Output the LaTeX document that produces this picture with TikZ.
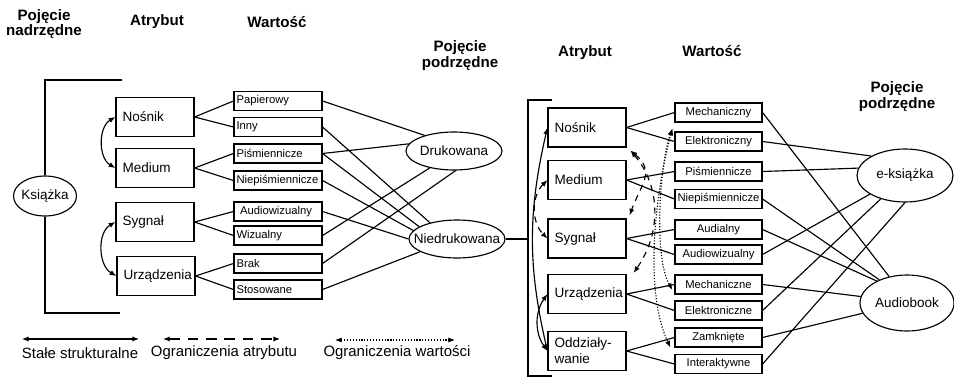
\documentclass[tikz,border=0pt]{standalone}
\usepackage{fontspec}
\setmainfont{Liberation Sans}
\usetikzlibrary{shapes.geometric,arrows.meta}
\newcommand{\lvtext}[1]{\makebox[1.66cm][l]{#1}}

\begin{document}
\begin{tikzpicture}[x=0.02cm,y=0.02cm,line width=0.65pt,>={Latex[length=3.8pt,width=3pt]},
	head/.style={font=\bfseries\fontsize{8.6}{8}\selectfont,align=center},
	attr/.style={draw,rectangle,minimum width=1.56cm,minimum height=0.78cm,text width=1.3cm,inner xsep=0.13cm,inner ysep=0pt,align=left,font=\fontsize{7.7}{9}\selectfont},
	lval/.style={draw,rectangle,minimum width=1.76cm,minimum height=0.38cm,inner sep=0pt,font=\fontsize{6.4}{7.5}\selectfont},
	rval/.style={draw,rectangle,minimum width=1.74cm,minimum height=0.38cm,inner sep=0pt,font=\fontsize{6.4}{7.5}\selectfont},
	concept/.style={draw,ellipse,inner sep=0pt,font=\fontsize{7.7}{9}\selectfont},
	legtext/.style={font=\fontsize{8.5}{10}\selectfont},
	dashlong/.style={dash pattern=on 6pt off 4.5pt},
	dashshort/.style={dash pattern=on 3.5pt off 3pt}]
	\useasboundingbox (0,0) rectangle (954,380);

	\node[head] (hnadrz) at (44,356) {Pojęcie\\nadrzędne};
	\node[head] (hatrL) at (157,358) {Atrybut};
	\node[head] (hwarL) at (277,358) {Wartość};
	\node[head] (hpodM) at (460,324) {Pojęcie\\podrzędne};
	\node[head] (hatrR) at (585,327) {Atrybut};
	\node[head] (hwarR) at (712,329) {Wartość};
	\node[head] (hpodR) at (897,283) {Pojęcie\\podrzędne};

	\node[concept,minimum width=1.26cm,minimum height=0.8cm] (ksiazka) at (45,184) {\makebox[0pt]{Książka}};
	\draw (122,300) -- (45,300) -- (ksiazka.north);
	\draw (ksiazka.south) -- (45,67) -- (120,67);

	\node[attr] (nosnikL) at (155,263) {Nośnik};
	\node[attr] (mediumL) at (155,212) {Medium};
	\node[attr] (sygnalL) at (155,158) {Sygnał};
	\node[attr] (urzadzL) at (156,104) {Urządzenia};

	\node[lval] (papierowy) at (278,279) {\lvtext{Papierowy}};
	\node[lval] (inny) at (278,253) {\lvtext{Inny}};
	\node[lval] (pismL) at (278,226.5) {\lvtext{Piśmiennicze}};
	\node[lval] (niepismL) at (278,199.5) {\lvtext{Niepiśmiennicze}};
	\node[lval] (audiowizL) at (278,168.5) {\lvtext{\hspace{2pt}Audiowizualny}};
	\node[lval] (wizualny) at (278,144.5) {\lvtext{Wizualny}};
	\node[lval] (brak) at (278,116.5) {\lvtext{Brak}};
	\node[lval] (stosowane) at (278,90.5) {\lvtext{Stosowane}};

	\node[concept,minimum width=1.92cm,minimum height=0.76cm] (drukowana) at (454,229) {\makebox[0pt]{Drukowana}};
	\node[concept,minimum width=1.92cm,minimum height=0.76cm] (niedrukowana) at (457,141) {\makebox[0pt]{Niedrukowana}};

	\draw[<->] (nosnikL.west) to[out=210,in=150] (mediumL.west);
	\draw[<->] (sygnalL.west) to[out=210,in=150] (urzadzL.west);

	\foreach \src/\dst in {nosnikL/papierowy,nosnikL/inny,mediumL/pismL,mediumL/niepismL,sygnalL/audiowizL,sygnalL/wizualny,urzadzL/brak,urzadzL/stosowane}
		\draw (\src.east) -- (\dst.west);

	\foreach \src/\dst in {papierowy/drukowana.152,pismL/drukowana.171,wizualny/drukowana.215,brak/drukowana.275,inny/niedrukowana.149,pismL/niedrukowana.162,niepismL/niedrukowana.169,audiowizL/niedrukowana.180,stosowane/niedrukowana.199}
		\draw (\src.east) -- (\dst);

	\coordinate (brR) at (528,141);
	\draw (niedrukowana.east) -- (brR);
	\draw (552,280) -- (528,280) -- (528,4) -- (552,4);

	\node[attr] (nosnikR) at (587,252.5) {Nośnik};
	\node[attr] (mediumR) at (587,200) {Medium};
	\node[attr] (sygnalR) at (587,141.5) {Sygnał};
	\node[attr] (urzadzR) at (587,86) {Urządzenia};
	\node[attr] (oddzR) at (587,29) {Oddziały-\\wanie};

	\node[rval] (mechaniczny) at (718.5,267.5) {Mechaniczny};
	\node[rval] (elektroniczny) at (718.5,238.5) {Elektroniczny};
	\node[rval] (pismR) at (718.5,208.5) {Piśmiennicze};
	\node[rval] (niepismR) at (718.5,181) {Niepiśmiennicze};
	\node[rval] (audialny) at (718.5,150.5) {Audialny};
	\node[rval] (audiowizR) at (718.5,125.5) {Audiowizualny};
	\node[rval] (mechaniczne) at (718.5,95.5) {Mechaniczne};
	\node[rval] (elektroniczne) at (718.5,69.5) {Elektroniczne};
	\node[rval] (zamkniete) at (718.5,42.5) {Zamknięte};
	\node[rval] (interaktywne) at (718.5,16) {Interaktywne};

	\node[concept,minimum width=1.92cm,minimum height=1.06cm] (ebook) at (905,204.5) {\makebox[0pt]{e-książka}};
	\node[concept,minimum width=1.88cm,minimum height=1.12cm] (audiobook) at (907,77) {\makebox[0pt]{Audiobook}};

	\foreach \src/\dst in {nosnikR/mechaniczny,nosnikR/elektroniczny,mediumR/pismR,mediumR/niepismR,sygnalR/audialny,sygnalR/audiowizR,urzadzR/mechaniczne,urzadzR/elektroniczne,oddzR/zamkniete,oddzR/interaktywne}
		\draw (\src.east) -- (\dst.west);

	\foreach \src/\dst in {elektroniczny/ebook.150,pismR/ebook.171,audiowizR/ebook.208,elektroniczne/ebook.224,interaktywne/ebook.270,mechaniczny/audiobook.124,niepismR/audiobook.140,audialny/audiobook.144,mechaniczne/audiobook.172,zamkniete/audiobook.193}
		\draw (\src.east) -- (\dst);

	\draw[<->] (oddzR.west) to[out=103,in=257] (nosnikR.west);
	\draw[<->,dashshort] (mediumR.west) to[out=225,in=135] (sygnalR.west);
	\draw[<->] (urzadzR.west) to[out=235,in=125] (oddzR.west);

	\draw[<->,dashshort] ([shift={(4,-3)}]nosnikR.south east) to[out=-40,in=70,looseness=1.3] ([shift={(3,3)}]sygnalR.north east);
	\draw[<->,dashshort] ([shift={(4,-3)}]nosnikR.south east) to[out=-50,in=55] ([shift={(7,1)}]urzadzR.north east);

	\draw[<->,densely dotted] ([shift={(-2,-6)}]mechaniczny.south west) to[out=250,in=120,looseness=0.6] ([shift={(-2,-5.5)}]mechaniczne.west);
	\draw[<->,densely dotted] ([shift={(-2,-6)}]mechaniczny.south west) to[out=255,in=115,looseness=0.75] ([shift={(-4,0)}]zamkniete.south west);

	\coordinate (lgAa) at (22,41);
	\coordinate (lgAb) at (139,41);
	\coordinate (lgBa) at (163,41);
	\coordinate (lgBb) at (280,41);
	\coordinate (lgCa) at (335,40);
	\coordinate (lgCb) at (455,40);
	\draw[<->] (lgAa) -- (lgAb);
	\draw[<->,dashlong] (lgBa) -- (lgBb);
	\draw[<->,densely dotted] (lgCa) -- (lgCb);
	\node[legtext] (lgA) at (80,27) {Stałe strukturalne};
	\node[legtext] (lgB) at (224,27) {Ograniczenia atrybutu};
	\node[legtext] (lgC) at (397,27) {Ograniczenia wartości};

\end{tikzpicture}
\end{document}
